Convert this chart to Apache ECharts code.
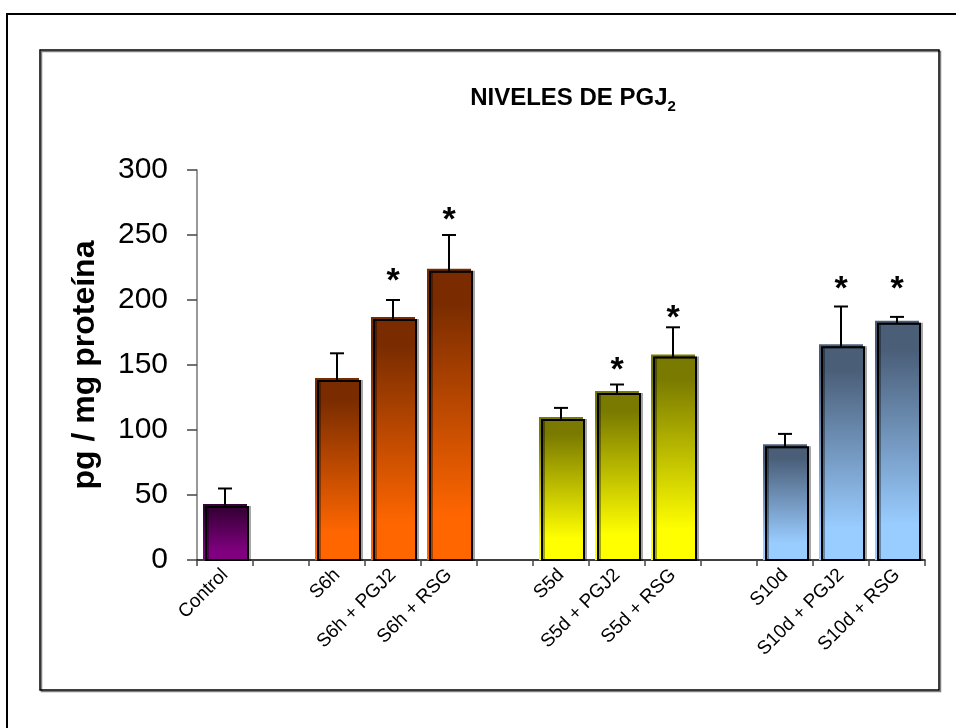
<!DOCTYPE html>
<html>
<head>
<meta charset="utf-8">
<script src="https://cdn.jsdelivr.net/npm/echarts@6/dist/echarts.min.js"></script>
<style>
  html,body{margin:0;padding:0;background:#fff;}
  #main{width:956px;height:728px;}
</style>
</head>
<body>
<div id="main"></div>
<script>
// datos
var categorias = ['Control', '', 'S6h', 'S6h + PGJ2', 'S6h + RSG', '', 'S5d', 'S5d + PGJ2', 'S5d + RSG', '', 'S10d', 'S10d + PGJ2', 'S10d + RSG'];
var medias = [43, null, 140, 187, 224, null, 110, 130, 158, null, 89, 166, 184];
var errSup = [55, null, 159, 200, 250, null, 117, 135, 179, null, 97, 195, 187];
var asteriscos = [null, null, null, 220, 267, null, null, 152, 192, null, null, 214, 214];
var grupo = [0, null, 1, 1, 1, null, 2, 2, 2, null, 3, 3, 3];
var yTicks = [0, 50, 100, 150, 200, 250, 300];

// colores por grupo: arriba / abajo
var paleta = [
  ['#3a003a', '#800080'],
  ['#7a2c00', '#ff6600'],
  ['#7a7a00', '#ffff00'],
  ['#4a5e78', '#99ccff']
];

var dom = document.getElementById('main');
var myChart = echarts.init(dom);

var barras = [];
for (var i = 0; i < medias.length; i++) {
  if (medias[i] == null) { barras.push('-'); continue; }
  var p = paleta[grupo[i]];
  barras.push({
    value: medias[i],
    itemStyle: {
      color: new echarts.graphic.LinearGradient(0, 0, 0, 1, [
        {offset: 0, color: p[0]},
        {offset: 0.12, color: p[0]},
        {offset: 0.85, color: p[1]},
        {offset: 1, color: p[1]}
      ])
    }
  });
}

var extras = [];
for (var i = 0; i < medias.length; i++) {
  if (medias[i] == null) continue;
  extras.push([i, medias[i], errSup[i], asteriscos[i] == null ? '-' : asteriscos[i]]);
}

var option = {
  animation: false,
  title: {
    text: '{b|NIVELES DE PGJ}{s|2}',
    left: 568,
    top: 81,
    textAlign: 'center',
    textStyle: {
      rich: {
        b: {fontFamily: 'Liberation Sans, Arial', fontSize: 24, fontWeight: 'bold', color: '#000', lineHeight: 28, verticalAlign: 'top'},
        s: {fontFamily: 'Liberation Sans, Arial', fontSize: 15, fontWeight: 'bold', color: '#000', lineHeight: 15, verticalAlign: 'bottom'}
      }
    }
  },
  graphic: [
    {type: 'rect', shape: {x: 7, y: 14, width: 1000, height: 1000}, style: {fill: null, stroke: '#000', lineWidth: 2}, silent: true},
    {type: 'rect', shape: {x: 40, y: 50, width: 899, height: 640}, style: {fill: null, stroke: '#000', lineWidth: 1.5, shadowColor: 'rgba(0,0,0,0.5)', shadowOffsetX: 1.5, shadowOffsetY: 1.5}, silent: true}
  ],
  grid: {left: 197, right: 31, top: 170, bottom: 168},
  xAxis: {
    type: 'category',
    data: categorias,
    axisLine: {lineStyle: {color: '#000', width: 1.5}},
    axisTick: {show: true, length: 6, lineStyle: {color: '#444', width: 1.5}},
    axisLabel: {interval: 0, rotate: 45, margin: 12, fontFamily: 'Liberation Sans, Arial', fontSize: 19, color: '#000'}
  },
  yAxis: {
    type: 'value',
    min: 0, max: 300, interval: 50,
    name: 'pg / mg proteína',
    nameLocation: 'middle',
    nameGap: 96,
    nameTextStyle: {fontFamily: 'Liberation Sans, Arial', fontSize: 32, fontWeight: 'bold', color: '#000'},
    axisLine: {show: true, lineStyle: {color: '#777', width: 1.5}},
    axisTick: {show: true, length: 10, lineStyle: {color: '#444', width: 1.5}},
    axisLabel: {margin: 29, fontFamily: 'Liberation Sans, Arial', fontSize: 30, color: '#000',
      formatter: function (v) { return yTicks.indexOf(v) >= 0 ? String(v) : ''; }},
    splitLine: {show: false}
  },
  series: [
    {
      type: 'bar',
      data: barras,
      barWidth: 44,
      z: 2
    },
    {
      type: 'custom',
      data: extras,
      z: 3,
      renderItem: function (params, api) {
        var idx = api.value(0);
        var top = api.coord([idx, api.value(1)]);
        var base = api.coord([idx, 0]);
        var err = api.coord([idx, api.value(2)]);
        var cx = top[0];
        var kids = [
          {type: 'rect', shape: {x: cx - 19, y: top[1] + 3, width: 42, height: base[1] - top[1] - 3},
           style: {fill: null, stroke: '#000', lineWidth: 2, shadowColor: 'rgba(0,0,0,0.35)', shadowOffsetX: 2}},
          {type: 'line', shape: {x1: cx, y1: top[1] + 3, x2: cx, y2: err[1]}, style: {stroke: '#000', lineWidth: 2}},
          {type: 'line', shape: {x1: cx - 7, y1: err[1], x2: cx + 7, y2: err[1]}, style: {stroke: '#000', lineWidth: 2}}
        ];
        var st = api.value(3);
        if (!isNaN(st)) {
          var sp = api.coord([idx, st]);
          kids.push({type: 'text', x: cx, y: sp[1] + 8,
            style: {text: '*', fill: '#000', font: 'bold 34px "Liberation Sans", Arial', align: 'center', verticalAlign: 'middle'}});
        }
        return {type: 'group', children: kids};
      }
    }
  ]
};

if (option && typeof option === "object") {
  myChart.setOption(option, true);
}
</script>
</body>
</html>
